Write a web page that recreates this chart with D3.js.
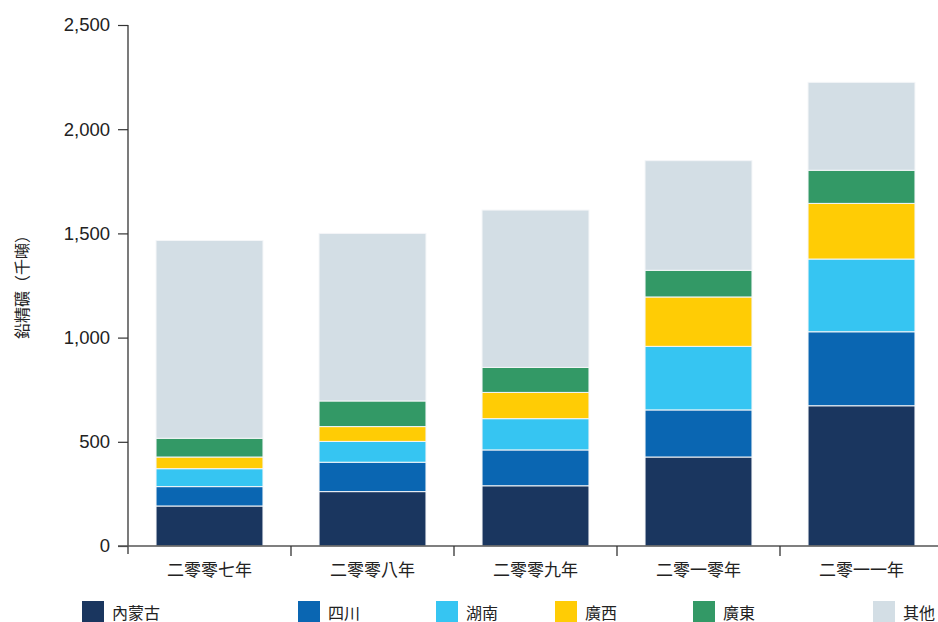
<!DOCTYPE html>
<html>
<head>
<meta charset="utf-8">
<script src="https://cdn.jsdelivr.net/npm/d3@7"></script>
<style>
  html, body { margin: 0; padding: 0; background: #fff; }
  svg text { font-family: "Liberation Sans", Arial, "Noto Sans CJK TC", sans-serif; fill: #222; }
</style>
</head>
<body>
<svg id="chart" width="938" height="622"></svg>
<script>
// Lead concentrate output by province (thousand tonnes)
const years = ["二零零七年", "二零零八年", "二零零九年", "二零一零年", "二零一一年"];
const seriesNames = ["內蒙古", "四川", "湖南", "廣西", "廣東", "其他"];
const innerMongolia = [192, 261, 289, 427, 673];
const sichuan       = [93, 141, 172, 226, 355];
const hunan         = [86, 100, 150, 305, 349];
const guangxi       = [56, 71, 126, 237, 267];
const guangdong     = [90, 123, 120, 128, 159];
const others        = [949, 804, 755, 526, 422];
const seriesColors  = ["#1a365f", "#0a66b2", "#36c5f2", "#ffcc05", "#339966", "#d3dee5"];
const yTicks = [0, 500, 1000, 1500, 2000, 2500];

const seriesValues = [innerMongolia, sichuan, hunan, guangxi, guangdong, others];
const rows = years.map((yr, i) => {
  const r = { year: yr };
  seriesNames.forEach((s, k) => { r[s] = seriesValues[k][i]; });
  return r;
});

const svg = d3.select("#chart");
const plotLeft = 128, plotRight = 943, plotTop = 25, plotBottom = 546;

const x = d3.scaleBand().domain(years).range([plotLeft, plotRight])
  .paddingInner(0.344).paddingOuter(0.172);
const y = d3.scaleLinear().domain([0, 2500]).range([plotBottom, plotTop]);
const color = d3.scaleOrdinal().domain(seriesNames).range(seriesColors);

const stacked = d3.stack().keys(seriesNames)(rows);

// stacked bars
svg.append("g").selectAll("g").data(stacked).join("g")
  .attr("fill", d => color(d.key))
  .selectAll("rect").data(d => d).join("rect")
  .attr("x", d => x(d.data.year))
  .attr("width", x.bandwidth())
  .attr("y", d => y(d[1]))
  .attr("height", d => y(d[0]) - y(d[1]))
  .attr("stroke", "#f4f6f8")
  .attr("stroke-width", 1);

// y axis
const yAxis = svg.append("g").attr("transform", `translate(${plotLeft},0)`)
  .call(d3.axisLeft(y).tickValues(yTicks).tickSize(10).tickPadding(8)
    .tickFormat(d3.format(",")));
yAxis.select(".domain").remove();
yAxis.selectAll(".tick line").attr("stroke", "#333").attr("stroke-width", 1.2);
yAxis.selectAll(".tick text").style("font-size", "18.5px").attr("fill", "#222");
svg.append("line").attr("x1", plotLeft).attr("x2", plotLeft)
  .attr("y1", y(2500)).attr("y2", plotBottom + 8)
  .attr("stroke", "#333").attr("stroke-width", 1.3);

// x axis
svg.append("line").attr("x1", plotLeft - 10).attr("x2", 938)
  .attr("y1", plotBottom).attr("y2", plotBottom)
  .attr("stroke", "#555").attr("stroke-width", 1.3);
const step = x.step();
svg.append("g").selectAll("line").data(years.slice(1)).join("line")
  .attr("x1", d => x(d) - x.paddingInner() * step / 2)
  .attr("x2", d => x(d) - x.paddingInner() * step / 2)
  .attr("y1", plotBottom).attr("y2", plotBottom + 10)
  .attr("stroke", "#333").attr("stroke-width", 1.3);
svg.append("g").selectAll("text").data(years).join("text")
  .attr("x", d => x(d) + x.bandwidth() / 2)
  .attr("y", 576)
  .attr("text-anchor", "middle")
  .style("font-size", "17px")
  .text(d => d);

// y axis title
svg.append("text")
  .attr("transform", "translate(28,283) rotate(-90)")
  .attr("text-anchor", "middle")
  .style("font-size", "16px")
  .text("鉛精礦（千噸）");

// legend
const legendX = [82, 298, 436, 555, 693, 873];
const legend = svg.append("g").selectAll("g").data(seriesNames).join("g")
  .attr("transform", (d, i) => `translate(${legendX[i]},601)`);
legend.append("rect").attr("width", 22).attr("height", 22)
  .attr("fill", d => color(d));
legend.append("text").attr("x", 30).attr("y", 18)
  .style("font-size", "16px")
  .text(d => d);
</script>
</body>
</html>
